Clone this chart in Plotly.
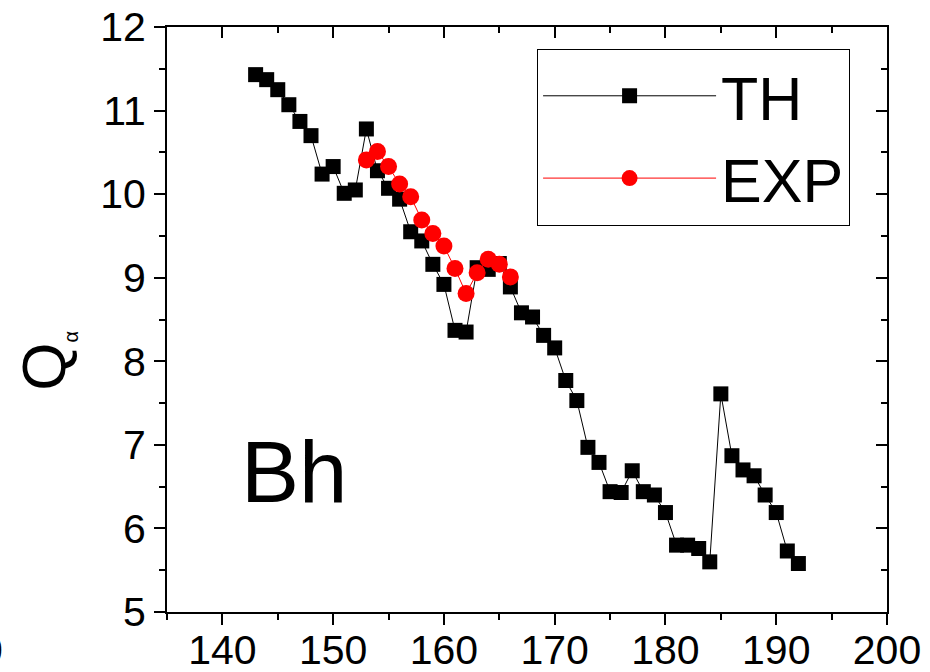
import plotly.graph_objects as go

th_x = list(range(143, 193))
th_y = [11.43, 11.37, 11.25, 11.07, 10.87, 10.70, 10.24, 10.33, 10.01, 10.05,
        10.78, 10.28, 10.07, 9.94, 9.55, 9.44, 9.16, 8.92, 8.37, 8.35,
        9.12, 9.10, 9.17, 8.89, 8.58, 8.53, 8.31, 8.16, 7.77, 7.53,
        6.97, 6.79, 6.44, 6.43, 6.69, 6.44, 6.40, 6.19, 5.80, 5.80,
        5.76, 5.60, 7.61, 6.87, 6.70, 6.63, 6.40, 6.19, 5.73, 5.58]

exp_x = list(range(153, 167))
exp_y = [10.41, 10.51, 10.33, 10.12, 9.97, 9.69, 9.53, 9.38, 9.11, 8.81,
         9.06, 9.22, 9.16, 9.01]

FONT = "Liberation Sans, Arial, sans-serif"

fig = go.Figure()
fig.add_trace(go.Scatter(x=th_x, y=th_y, mode="lines+markers", name="TH",
                         line=dict(color="black", width=1),
                         marker=dict(symbol="square", size=15, color="black")))
fig.add_trace(go.Scatter(x=exp_x, y=exp_y, mode="lines+markers", name="EXP",
                         line=dict(color="red", width=1),
                         marker=dict(symbol="circle", size=17, color="red")))
# helper trace so the mirrored (inside-tick) axes are drawn
fig.add_trace(go.Scatter(x=[None], y=[None], xaxis="x2", yaxis="y2",
                         showlegend=False, hoverinfo="skip"))

common = dict(showgrid=False, zeroline=False, linecolor="black", linewidth=2,
              tickcolor="black", tickwidth=2, ticklen=11)

fig.update_layout(
    width=930, height=672,
    margin=dict(l=167, r=43, t=27, b=60, autoexpand=False),
    paper_bgcolor="white", plot_bgcolor="white",
    font=dict(family=FONT, color="black"),
    xaxis=dict(range=[135, 200], dtick=10, tick0=140, ticks="outside",
               tickfont=dict(size=41, family=FONT), ticklabelstandoff=-10,
               minor=dict(ticks="outside", ticklen=6, dtick=5, tick0=135,
                          tickcolor="black", tickwidth=2),
               **common),
    yaxis=dict(range=[5, 12], dtick=1, ticks="outside",
               tickfont=dict(size=41, family=FONT),
               minor=dict(ticks="outside", ticklen=6, dtick=0.5,
                          tickcolor="black", tickwidth=2),
               **common),
    xaxis2=dict(range=[135, 200], dtick=10, tick0=140, ticks="inside",
                overlaying="x", side="top", anchor="y2", showticklabels=False,
                minor=dict(ticks="inside", ticklen=6, dtick=5, tick0=135,
                           tickcolor="black", tickwidth=2),
                **common),
    yaxis2=dict(range=[5, 12], dtick=1, ticks="inside",
                overlaying="y", side="right", anchor="x2", showticklabels=False,
                minor=dict(ticks="inside", ticklen=6, dtick=0.5,
                           tickcolor="black", tickwidth=2),
                **common),
    legend=dict(x=0.514, y=0.963, xanchor="left", yanchor="top",
                bordercolor="black", borderwidth=1, bgcolor="white",
                font=dict(size=61, family=FONT, color="black"),
                itemwidth=173, tracegroupgap=0),
    showlegend=True,
)

fig.add_annotation(text="Bh", x=146.45, y=6.68, xref="x", yref="y",
                   showarrow=False, xanchor="center", yanchor="middle",
                   font=dict(size=87, family=FONT, color="black"))
fig.add_annotation(text='Q<sub><span style="font-size:20px">α</span></sub>',
                   x=-0.169, y=0.43, xref="paper", yref="paper",
                   textangle=-90, showarrow=False,
                   xanchor="center", yanchor="middle",
                   font=dict(size=62, family=FONT, color="black"))
fig.add_annotation(text="0", x=-0.225, y=-0.065, xref="paper", yref="paper",
                   showarrow=False, xanchor="right", yanchor="middle",
                   font=dict(size=41, family=FONT, color="black"))

fig.write_html("out.html")
